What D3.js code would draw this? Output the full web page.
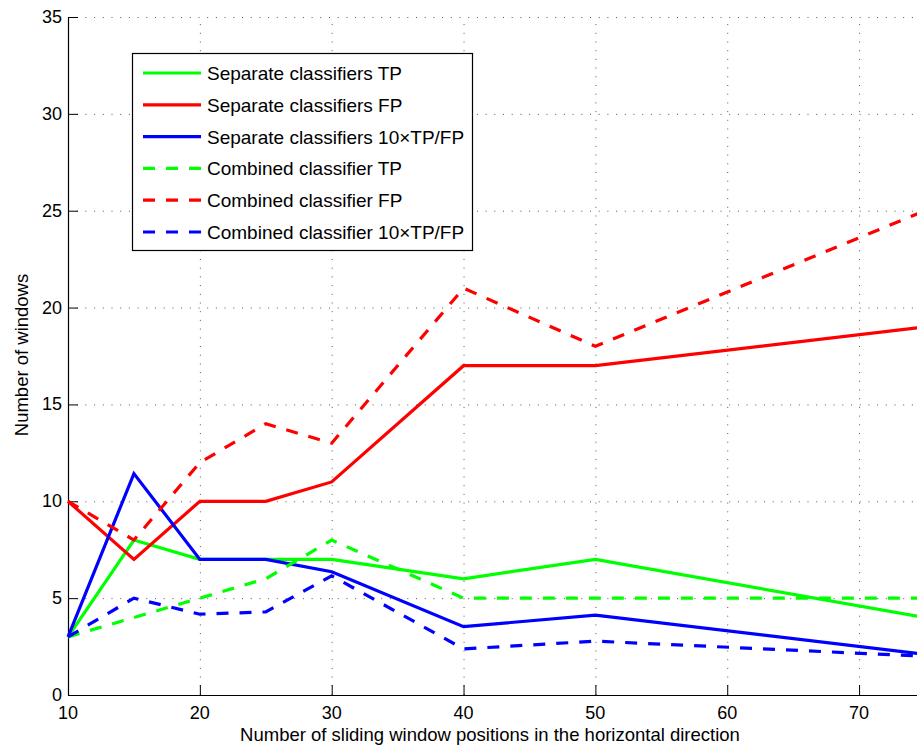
<!DOCTYPE html>
<html>
<head>
<meta charset="utf-8">
<script src="https://cdn.jsdelivr.net/npm/d3@7"></script>
<style>
  body { margin: 0; background: #fff; }
  svg { display: block; font-family: "Liberation Sans", Arial, sans-serif; }
</style>
</head>
<body>
<svg id="chart"></svg>
<script>
const width = 917;
const height = 749;

// window positions (x values)
const positions = [10, 15, 20, 25, 30, 40, 50, 75];

// series values
const sepTP    = [3, 8, 7, 7, 7, 6, 7, 4];
const sepFP    = [10, 7, 10, 10, 11, 17, 17, 19];
const sepRatio = [3, 11.43, 7, 7, 6.36, 3.53, 4.12, 2.1];
const comTP    = [3, 4, 5, 6, 8, 5, 5, 5];
const comFP    = [10, 8, 12, 14, 13, 21, 18, 25];
const comRatio = [3, 5, 4.17, 4.29, 6.15, 2.38, 2.78, 2.0];

const xTicks = [10, 20, 30, 40, 50, 60, 70];
const yTicks = [0, 5, 10, 15, 20, 25, 30, 35];

const series = [
    { name: "Separate classifiers TP", values: sepTP, color: "#00ff00", dashed: false },
    { name: "Separate classifiers FP", values: sepFP, color: "#ff0000", dashed: false },
    { name: "Separate classifiers 10\u00d7TP/FP", values: sepRatio, color: "#0000ff", dashed: false },
    { name: "Combined classifier TP", values: comTP, color: "#00ff00", dashed: true },
    { name: "Combined classifier FP", values: comFP, color: "#ff0000", dashed: true },
    { name: "Combined classifier 10\u00d7TP/FP", values: comRatio, color: "#0000ff", dashed: true }
];

const svg = d3.select("#chart").attr("width", width).attr("height", height);

// plot area (right side runs past the window edge, as in the figure)
const plotL = 68, plotR = 925, plotT = 17, plotB = 695;

const x = d3.scaleLinear().domain([10, 75]).range([plotL, plotR]);
const y = d3.scaleLinear().domain([0, 35]).range([plotB, plotT]);

// dotted grid
const grid = svg.append("g").attr("class", "grid")
    .attr("stroke", "#555").attr("stroke-width", 1)
    .attr("stroke-dasharray", "1,7.7");

grid.selectAll("line.gx")
    .data(xTicks.filter(d => d !== 10))
    .enter().append("line")
    .attr("class", "gx")
    .attr("x1", d => x(d) + 0.5).attr("x2", d => x(d) + 0.5)
    .attr("y1", plotB).attr("y2", plotT);

grid.selectAll("line.gy")
    .data(yTicks.filter(d => d !== 0))
    .enter().append("line")
    .attr("class", "gy")
    .attr("x1", plotL).attr("x2", plotR)
    .attr("y1", d => y(d) + 0.5).attr("y2", d => y(d) + 0.5);

// axes with inward ticks
const xAxis = svg.append("g")
    .attr("transform", `translate(0,${plotB})`)
    .call(d3.axisTop(x).tickValues(xTicks).tickSize(10).tickSizeOuter(0));
xAxis.selectAll(".tick text").remove();
xAxis.append("g").selectAll("text")
    .data(xTicks)
    .enter().append("text")
    .attr("x", d => x(d))
    .attr("y", 24)
    .attr("text-anchor", "middle")
    .attr("fill", "#000")
    .style("font-size", "18px")
    .text(d => d);

const yAxis = svg.append("g")
    .attr("transform", `translate(${plotL},0)`)
    .call(d3.axisRight(y).tickValues(yTicks).tickSize(10).tickSizeOuter(0));
yAxis.selectAll(".tick text").remove();
yAxis.append("g").selectAll("text")
    .data(yTicks)
    .enter().append("text")
    .attr("x", -6)
    .attr("y", d => y(d) + 6)
    .attr("text-anchor", "end")
    .attr("fill", "#000")
    .style("font-size", "18px")
    .text(d => d);

svg.selectAll(".domain").attr("stroke", "#000").attr("stroke-width", 1.2);
svg.selectAll(".tick line").attr("stroke", "#000");

// axis titles
svg.append("text")
    .attr("x", 490).attr("y", 741)
    .attr("text-anchor", "middle")
    .style("font-size", "18.5px")
    .text("Number of sliding window positions in the horizontal direction");

svg.append("text")
    .attr("transform", "translate(28,355) rotate(-90)")
    .attr("text-anchor", "middle")
    .style("font-size", "18.5px")
    .text("Number of windows");

// lines
const line = d3.line()
    .x((d, i) => x(positions[i]))
    .y(d => y(d));

svg.append("g").attr("class", "lines")
    .selectAll("path")
    .data(series)
    .enter().append("path")
    .attr("d", d => line(d.values))
    .attr("fill", "none")
    .attr("stroke", d => d.color)
    .attr("stroke-width", 3.2)
    .attr("stroke-linejoin", "miter")
    .attr("stroke-dasharray", d => d.dashed ? "12,11" : null);

// legend
const legend = svg.append("g").attr("class", "legend");
legend.append("rect")
    .attr("x", 132.5).attr("y", 53.5)
    .attr("width", 340).attr("height", 197)
    .attr("fill", "#fff")
    .attr("stroke", "#000").attr("stroke-width", 1.2);

const rows = legend.selectAll("g.row")
    .data(series)
    .enter().append("g")
    .attr("class", "row")
    .attr("transform", (d, i) => `translate(0,${73 + i * 31.8})`);

rows.append("line")
    .attr("x1", 143).attr("x2", 201)
    .attr("y1", 0).attr("y2", 0)
    .attr("stroke", d => d.color)
    .attr("stroke-width", 3.2)
    .attr("stroke-dasharray", d => d.dashed ? "12,11" : null);

rows.append("text")
    .attr("x", 207).attr("y", 7)
    .style("font-size", "19px")
    .text(d => d.name);
</script>
</body>
</html>
